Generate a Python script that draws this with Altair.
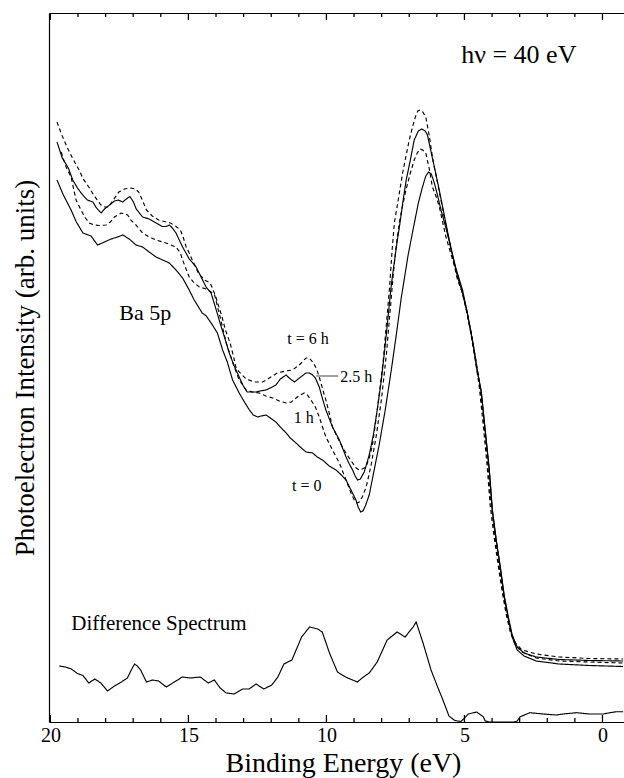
import altair as alt
import pandas as pd

# ---- Valence-band photoemission spectra (hv = 40 eV), binding energy in eV ----
energy_t0 = [19.76, 19.53, 19.25, 19.06, 18.82, 18.53, 18.29, 18.04, 17.80, 17.56, 17.38, 17.14,
             16.90, 16.66, 16.42, 16.17, 15.93, 15.69, 15.45, 15.21, 14.97, 14.79, 14.50, 14.35,
             14.13, 13.95, 13.76, 13.59, 13.40, 13.16, 12.97, 12.79, 12.65, 12.49, 12.36, 12.19,
             12.03, 11.83, 11.67, 11.46, 11.31, 11.10, 10.95, 10.74, 10.50, 10.33, 10.14, 9.90,
             9.65, 9.46, 9.29, 9.11, 8.93, 8.85, 8.76, 8.68, 8.59, 8.45, 8.27, 8.09, 7.87, 7.65,
             7.47, 7.29, 7.04, 6.85, 6.67, 6.52, 6.40, 6.30, 6.20, 6.09, 5.97, 5.84, 5.67, 5.52,
             5.31, 5.07, 4.90, 4.68, 4.54, 4.39, 4.25, 4.10, 3.99, 3.85, 3.70, 3.56, 3.41, 3.27,
             3.09, 2.84, 2.40, 1.57, 0.48, -0.75]
intensity_t0 = [542, 527, 512, 500, 489, 486, 477, 480, 483, 485, 487, 483,
                477, 475, 470, 465, 462, 459, 452, 444, 432, 422, 409, 406,
                397, 389, 372, 360, 342, 329, 320, 312, 307, 305, 306, 307,
                304, 300, 295, 289, 284, 279, 275, 270, 269, 265, 262, 256,
                252, 247, 242, 232, 222, 215, 210, 211, 216, 227, 252, 277, 312, 352,
                387, 424, 467, 494, 519, 535, 546, 550, 548, 539, 526, 511, 494, 477,
                454, 432, 410, 377, 352, 330, 292, 252, 212, 182, 154, 125, 103, 85,
                72, 66, 61, 58, 56.5, 55.5]

energy_1h = [19.61, 19.43, 19.25, 19.07, 18.89, 18.73, 18.59, 18.41, 18.23, 17.98, 17.83, 17.68,
             17.44, 17.20, 17.09, 16.90, 16.66, 16.42, 16.17, 15.81, 15.45, 15.29, 15.21, 14.97,
             14.79, 14.60, 14.35, 14.06, 13.85, 13.63, 13.34, 13.16, 12.91, 12.69, 12.43, 12.19,
             11.95, 11.71, 11.46, 11.27, 11.10, 10.95, 10.80, 10.69, 10.56, 10.40, 10.26, 10.02,
             9.78, 9.53, 9.29, 9.11, 8.99, 8.90, 8.81, 8.70, 8.56, 8.38, 8.19, 8.01, 7.83, 7.69,
             7.58, 7.47, 7.36, 7.25, 7.12, 6.96, 6.82, 6.71, 6.61, 6.51, 6.40, 6.28, 6.16, 6.02,
             5.91, 5.67, 5.48, 5.31, 5.15, 4.97, 4.79, 4.61, 4.47, 4.32, 4.18, 4.07, 3.92, 3.78,
             3.63, 3.49, 3.34, 3.16, 2.91, 2.40, 1.57, 0.48, -0.75]
intensity_1h = [570, 555, 545, 522, 512, 504, 499, 497, 496.5, 497, 500, 505,
                509, 507, 502, 497, 489, 485, 482, 479, 475, 469, 462, 445,
                439, 435, 433, 428, 405, 379, 355, 342, 332, 330, 329, 326,
                324, 321, 319, 320, 324, 327, 329, 327, 322, 315, 305, 285,
                272, 259, 242, 229, 222, 219, 220, 225, 235, 257, 287, 322, 367, 412,
                447, 477, 499, 515, 532, 549, 562, 569, 573, 572, 569, 554, 535, 525,
                515, 485, 467, 452, 437, 417, 392, 362, 337, 297, 257, 217, 184, 157,
                130, 108, 90, 77, 70, 64, 61, 60, 59]

energy_2h = [19.76, 19.57, 19.35, 19.19, 19.02, 18.83, 18.66, 18.46, 18.33, 18.16, 18.04, 17.81,
             17.68, 17.54, 17.38, 17.25, 17.12, 16.99, 16.89, 16.66, 16.42, 16.17, 15.94, 15.80,
             15.69, 15.58, 15.45, 15.21, 14.97, 14.72, 14.54, 14.36, 14.18, 13.99, 13.81, 13.66,
             13.52, 13.34, 13.16, 13.01, 12.87, 12.72, 12.55, 12.40, 12.19, 12.03, 11.83, 11.67,
             11.46, 11.35, 11.16, 10.98, 10.74, 10.62, 10.50, 10.40, 10.26, 10.15, 10.02, 9.78,
             9.53, 9.29, 9.17, 9.05, 8.96, 8.87, 8.77, 8.63, 8.45, 8.30, 8.16, 8.01, 7.87, 7.76,
             7.65, 7.54, 7.43, 7.33, 7.22, 7.11, 6.96, 6.82, 6.67, 6.54, 6.42, 6.34, 6.24, 6.09,
             5.95, 5.79, 5.55, 5.41, 5.25, 5.08, 4.90, 4.68, 4.54, 4.39, 4.25, 4.10, 3.99, 3.85,
             3.70, 3.56, 3.41, 3.27, 3.09, 2.84, 2.40, 1.57, 0.48, -0.75]
intensity_2h = [580, 564, 554, 542, 534, 527, 522, 520, 514, 509, 513, 518,
                521, 522, 520, 523, 525.5, 520, 513, 505, 503, 499, 495.5, 495.5,
                497, 494, 489, 475, 463, 455, 445, 435, 429, 412, 395, 382,
                369, 356, 345, 336, 330, 330, 330, 331, 332, 334, 337, 343,
                347, 344, 340, 344, 349, 349, 347, 344, 335, 324, 312, 295,
                282, 265, 258, 252, 246, 242, 243, 250, 267, 287, 312, 342, 377, 407,
                437, 460, 482, 500, 522, 542, 562, 582, 591, 593, 591, 587, 574, 555,
                537, 515, 482, 464, 445, 430, 409, 377, 352, 330, 292, 252, 212, 182,
                155, 127, 105, 87, 75, 69, 65, 62.5, 61.5, 61]

energy_6h = [19.76, 19.60, 19.40, 19.20, 18.96, 18.81, 18.61, 18.41, 18.17, 18.04, 17.89, 17.72,
             17.52, 17.32, 17.09, 16.92, 16.80, 16.67, 16.52, 16.31, 16.08, 15.87, 15.65, 15.47,
             15.29, 15.18, 15.08, 14.97, 14.86, 14.64, 14.42, 14.21, 14.03, 13.78, 13.66, 13.49,
             13.37, 13.28, 13.16, 12.91, 12.61, 12.31, 12.07, 11.78, 11.49, 11.23, 10.98, 10.74,
             10.62, 10.50, 10.37, 10.26, 10.15, 10.02, 9.90, 9.78, 9.61, 9.42, 9.25, 9.05, 8.92,
             8.81, 8.70, 8.57, 8.45, 8.34, 8.23, 8.09, 7.94, 7.83, 7.72, 7.62, 7.54, 7.40, 7.24,
             7.11, 7.00, 6.88, 6.78, 6.69, 6.61, 6.53, 6.40, 6.28, 6.16, 6.02, 5.85, 5.70, 5.55,
             5.41, 5.25, 5.08, 4.94, 4.75, 4.61, 4.47, 4.32, 4.18, 4.07, 3.92, 3.78, 3.63, 3.49,
             3.34, 3.16, 2.91, 2.40, 1.57, 0.48, -0.75]
intensity_6h = [600, 588, 575, 564, 552, 543, 535, 526, 517, 515, 515, 522,
                530, 533, 534, 533, 530, 522, 512, 506, 502, 500.5, 499, 496,
                492, 484, 475, 469, 462, 449, 442, 439, 427, 405, 392, 379,
                366, 355, 350, 343, 340, 340, 344, 349, 351, 352, 357, 364,
                364, 360, 354, 345, 334, 322, 309, 295, 285, 275, 267, 259, 254,
                252, 253, 255, 264, 276, 297, 327, 362, 397, 432, 472, 499, 522, 549,
                567, 582, 595, 605, 611, 612, 611, 605, 587, 565, 545, 522, 500, 482,
                462, 442, 430, 414, 389, 366, 342, 307, 267, 227, 192, 162, 134, 110,
                92, 79, 72, 68, 65, 63.5, 63]

# Difference spectrum, plotted on the same energy axis near the baseline
energy_diff = [19.68, 19.46, 19.24, 19.02, 18.82, 18.61, 18.39, 18.17, 17.93, 17.68, 17.43, 17.21,
               17.07, 16.95, 16.85, 16.73, 16.52, 16.30, 16.08, 15.80, 15.51, 15.22, 14.93, 14.57,
               14.28, 14.06, 13.85, 13.63, 13.34, 13.03, 12.80, 12.55, 12.27, 11.98, 11.76, 11.54,
               11.25, 10.90, 10.61, 10.32, 10.15, 9.89, 9.60, 9.31, 8.88, 8.66, 8.45, 8.16, 7.80,
               7.44, 7.15, 6.86, 6.75, 6.50, 6.21, 6.00, 5.78, 5.56, 5.35, 5.13, 5.04, 4.86, 4.56,
               4.32, 4.25, 4.10, 3.20, 3.09, 2.98, 2.63, 2.15, 1.68, 1.42, 0.94, 0.46, -0.03,
               -0.27, -0.51, -0.75]
intensity_diff = [56, 55, 53, 48.5, 46.5, 39, 43, 39, 31, 36, 40, 44,
                  52, 58, 56, 52, 40, 42, 41, 35, 40, 45, 44, 45,
                  39, 42, 34, 29, 28, 33, 33, 38, 33, 37, 45, 58,
                  62, 85, 95, 93, 90, 69, 50, 45, 40, 45, 49, 60, 82,
                  90, 85, 95, 100, 79, 52, 37, 22, 6, 1.5, 0.5, 2.7, 8, 10,
                  5.3, 1, 0, 0, 1, 5.3, 9.3, 8, 7, 8, 9.3, 8, 8,
                  9.3, 10.3, 10.3]

series = [
    ("t = 0", energy_t0, intensity_t0),
    ("1 h", energy_1h, intensity_1h),
    ("2.5 h", energy_2h, intensity_2h),
    ("6 h", energy_6h, intensity_6h),
    ("difference", energy_diff, intensity_diff),
]
line_styles = [[1, 0], [4, 3], [1, 0], [4, 3], [1, 0]]

df = pd.concat(
    [pd.DataFrame({"energy": e, "intensity": v, "spectrum": name}) for name, e, v in series],
    ignore_index=True,
)

# axis ticks: labelled every 5 eV, small ticks every 1 eV, all pointing inwards
major_ticks = [20, 15, 10, 5, 0]
minor_ticks = list(range(20, -1, -1))
Y_MIN, Y_MAX = 0, 709
MAJOR_LEN, MINOR_LEN = 7, 4

# ---- annotations (energy, intensity, text) ----
note_energy = [3.03, 16.56, 10.67, 10.82, 10.71]
note_intensity = [667, 409, 383, 304, 236]
note_text = ["h\u03bd = 40 eV", "Ba 5p", "t = 6 h", "1 h", "t = 0"]
note_size = [26, 22, 16, 16, 16]

FONT = "Liberation Serif"
W, H = 575, 709

x_scale = alt.Scale(domain=[20.05, -0.78], nice=False, zero=False)
y_scale = alt.Scale(domain=[Y_MIN, Y_MAX], nice=False, zero=False)

base = alt.Chart(df)

curves = base.mark_line(color="black", strokeWidth=1.15, clip=True).encode(
    x=alt.X(
        "energy:Q",
        scale=x_scale,
        axis=alt.Axis(
            values=major_ticks, format="d", ticks=False, tickSize=0, grid=False,
            domain=True, domainColor="black", domainWidth=1.2,
            labelFont=FONT, labelFontSize=20, labelColor="black", labelPadding=3,
            title="Binding Energy (eV)", titleFont=FONT, titleFontSize=28,
            titleFontWeight="normal", titleColor="black", titlePadding=4, titleX=294,
        ),
    ),
    y=alt.Y(
        "intensity:Q",
        scale=y_scale,
        axis=alt.Axis(
            labels=False, ticks=False, tickSize=0, grid=False,
            domain=True, domainColor="black", domainWidth=1.2,
            title="Photoelectron Intensity (arb. units)", titleFont=FONT, titleFontSize=27,
            titleFontWeight="normal", titleColor="black", titlePadding=10,
        ),
    ),
    strokeDash=alt.StrokeDash(
        "spectrum:N",
        scale=alt.Scale(domain=[s[0] for s in series], range=line_styles),
        legend=None,
    ),
    detail="spectrum:N",
)

# top frame line carried by an otherwise empty top axis
top_frame = base.mark_line(opacity=0).encode(
    x=alt.X(
        "energy:Q",
        scale=x_scale,
        axis=alt.Axis(orient="top", ticks=False, labels=False, grid=False, title=None,
                      domain=True, domainColor="black", domainWidth=1.2),
    ),
    y=alt.Y("intensity:Q", scale=y_scale, axis=None),
    detail="spectrum:N",
)

tick_rows = []
for v in minor_ticks:
    length = MAJOR_LEN if v in major_ticks else MINOR_LEN
    tick_rows.append({"energy": float(v), "y0": float(Y_MIN), "y1": float(Y_MIN + length)})
    tick_rows.append({"energy": float(v), "y0": float(Y_MAX), "y1": float(Y_MAX - length)})
ticks = alt.Chart(pd.DataFrame(tick_rows)).mark_rule(
    color="black", strokeWidth=1.3, opacity=1
).encode(
    x=alt.X("energy:Q", scale=x_scale, axis=None),
    y=alt.Y("y0:Q", scale=y_scale, axis=None),
    y2=alt.Y2("y1:Q"),
)

notes_df = pd.DataFrame({"energy": note_energy, "intensity": note_intensity,
                         "text": note_text, "size": note_size})
notes = alt.Chart(notes_df).mark_text(font=FONT, color="black", align="center",
                                      baseline="middle").encode(
    x=alt.X("energy:Q", scale=x_scale, axis=None),
    y=alt.Y("intensity:Q", scale=y_scale, axis=None),
    text="text:N",
    size=alt.Size("size:Q", scale=None, legend=None),
)

label_25 = alt.Chart(pd.DataFrame({"energy": [9.50], "intensity": [345], "text": ["2.5 h"]})).mark_text(
    font=FONT, fontSize=16, color="black", align="left", baseline="middle"
).encode(
    x=alt.X("energy:Q", scale=x_scale, axis=None),
    y=alt.Y("intensity:Q", scale=y_scale, axis=None),
    text="text:N",
)

leader = alt.Chart(pd.DataFrame({"e1": [10.37], "e2": [9.57], "intensity": [346]})).mark_rule(
    color="#444444", strokeWidth=1
).encode(
    x=alt.X("e1:Q", scale=x_scale, axis=None),
    x2="e2:Q",
    y=alt.Y("intensity:Q", scale=y_scale, axis=None),
)

diff_label = alt.Chart(pd.DataFrame({"energy": [19.24], "intensity": [98],
                                     "text": ["Difference Spectrum"]})).mark_text(
    font=FONT, fontSize=21, color="black", align="left", baseline="middle"
).encode(
    x=alt.X("energy:Q", scale=x_scale, axis=None),
    y=alt.Y("intensity:Q", scale=y_scale, axis=None),
    text="text:N",
)

chart = alt.layer(
    curves,
    top_frame,
    ticks,
    leader,
    notes,
    label_25,
    diff_label,
).resolve_axis(x="independent", y="independent").properties(
    width=W,
    height=H,
    autosize=alt.AutoSizeParams(type="none"),
    padding={"left": 49, "top": 13, "right": 0, "bottom": 56},
    background="white",
).configure_view(stroke=None)

chart.save("out.html", embed_options={"renderer": "svg", "actions": False})
